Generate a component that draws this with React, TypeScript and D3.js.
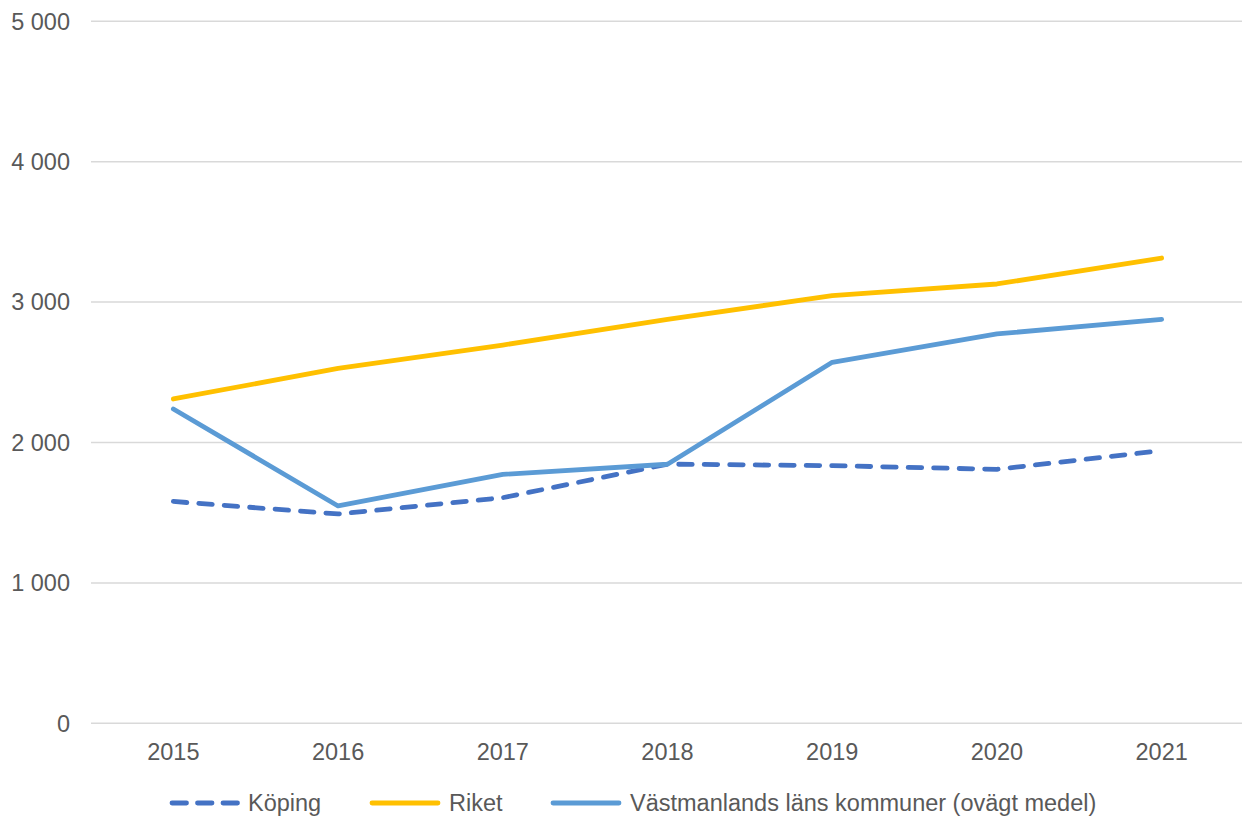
import React from "react";
import * as d3 from "d3";

const years = ["2015", "2016", "2017", "2018", "2019", "2020", "2021"];
const koping = [1580, 1491, 1607, 1846, 1835, 1809, 1942];
const riket = [2310, 2528, 2694, 2877, 3046, 3129, 3314];
const vastmanland = [2239, 1548, 1773, 1845, 2571, 2773, 2877];
const yTicks = [0, 1000, 2000, 3000, 4000, 5000];

const seriesNames = ["Köping", "Riket", "Västmanlands läns kommuner (ovägt medel)"];
const seriesColors = ["#4472C4", "#FFC000", "#5B9BD5"];
const seriesDash = ["13.5 12", null, null];

const W = 1242;
const H = 819;
const left = 91;
const right = 1244;
const top = 21.3;
const bottom = 723.3;

export default function App() {
  const x = d3.scalePoint<string>().domain(years).range([left, right]).padding(0.5);
  const y = d3.scaleLinear().domain([0, 5000]).range([bottom, top]);
  const line = d3
    .line<number>()
    .x((_, i) => x(years[i]) as number)
    .y((d) => y(d));
  const data = [koping, riket, vastmanland];
  const fmt = (v: number) => d3.format(",")(v).replace(/,/g, " ");
  const font = "'Liberation Sans', Arial, sans-serif";
  const legendItems = [
    { lx: 170, tx: 248 },
    { lx: 370, tx: 449 },
    { lx: 551, tx: 630 },
  ];
  return (
    <svg width={W} height={H} style={{ position: "absolute", left: 0, top: 0 }} fontFamily={font}>
      <rect width={W} height={H} fill="#fff" />
      {yTicks.map((t) => (
        <g key={t}>
          <line x1={left} x2={W} y1={y(t)} y2={y(t)} stroke="#d9d9d9" strokeWidth={1.5} />
          <text x={70} y={y(t)} dy="0.35em" textAnchor="end" fontSize={23.5} fill="#595959">
            {fmt(t)}
          </text>
        </g>
      ))}
      {years.map((yr) => (
        <text key={yr} x={x(yr)} y={760} textAnchor="middle" fontSize={23.5} fill="#595959">
          {yr}
        </text>
      ))}
      {data.map((d, i) => (
        <path
          key={i}
          d={line(d) || ""}
          fill="none"
          stroke={seriesColors[i]}
          strokeWidth={4.8}
          strokeLinecap="round"
          strokeLinejoin="round"
          strokeDasharray={seriesDash[i] || undefined}
        />
      ))}
      {seriesNames.map((n, i) => (
        <g key={n}>
          <line
            x1={legendItems[i].lx + 2}
            x2={legendItems[i].lx + 68}
            y1={803}
            y2={803}
            stroke={seriesColors[i]}
            strokeWidth={4.8}
            strokeLinecap="round"
            strokeDasharray={seriesDash[i] ? "14.5 11" : undefined}
          />
          <text x={legendItems[i].tx} y={803} dy="0.35em" fontSize={23.5} fill="#595959">
            {n}
          </text>
        </g>
      ))}
    </svg>
  );
}
